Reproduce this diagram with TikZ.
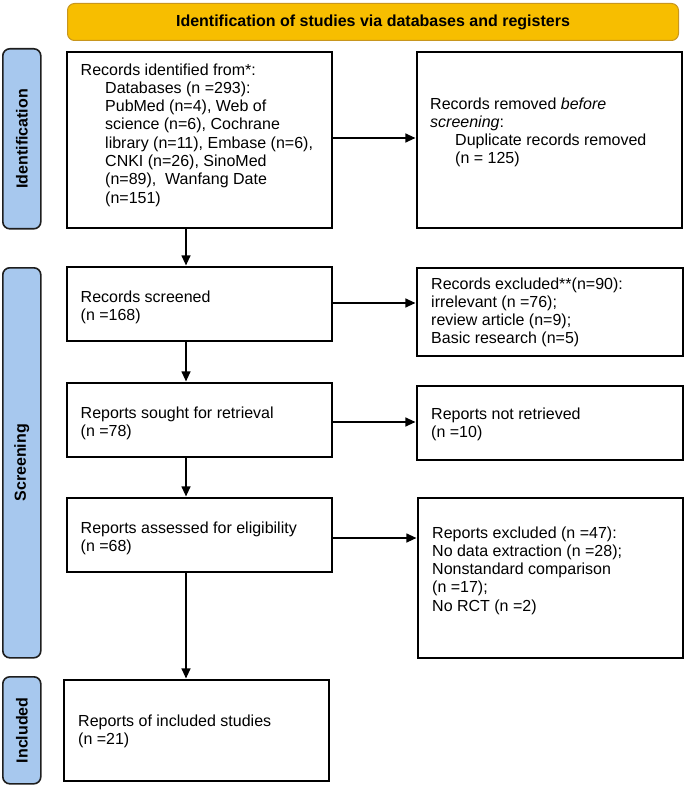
\documentclass[tikz,border=0pt]{standalone}
\usepackage{fontspec}
\setmainfont{Liberation Sans}
\usetikzlibrary{arrows.meta}
\definecolor{hdrfill}{HTML}{F7BE00}
\definecolor{hdrdraw}{HTML}{C8961E}
\definecolor{barfill}{HTML}{A7C8EE}
\definecolor{bardraw}{HTML}{1E1E1E}
\begin{document}
\begin{tikzpicture}[x=1pt,y=-1pt,
  box/.style={draw=black,line width=1.6pt,fill=white,anchor=north west,inner sep=0pt},
  txt/.style={anchor=north west,inner sep=0pt,align=left,font=\fontsize{16}{18.3}\selectfont},
  bar/.style={draw=bardraw,line width=1.6pt,fill=barfill,rounded corners=7pt,anchor=north west,inner sep=0pt},
  lab/.style={font=\fontsize{16}{18.3}\selectfont\bfseries,rotate=90,inner sep=0pt},
  arr/.style={line width=1.2pt,shorten >=0.6pt,-{Triangle[length=10pt,width=9pt]}}]
\useasboundingbox (0,0) rectangle (685,786);

% header
\node[draw=hdrdraw,fill=hdrfill,line width=1pt,rounded corners=7pt,anchor=north west,
  minimum width=611pt,minimum height=37pt,inner sep=0pt,
  font=\bfseries\fontsize{16}{18.3}\selectfont] (hdr) at (67,3)
  {Identification of studies via databases and registers};

% side bars
\node[bar,minimum width=38pt,minimum height=180pt] (bar1) at (2,48) {};
\node[lab] (lab1) at (bar1.center) {Identification};
\node[bar,minimum width=38pt,minimum height=390pt] (bar2) at (2,267) {};
\node[lab] (lab2) at (bar2.center) {Screening};
\node[bar,minimum width=38pt,minimum height=107pt] (bar3) at (2,676) {};
\node[lab] (lab3) at (bar3.center) {Included};

% boxes
\node[box,minimum width=265pt,minimum height=176pt] (b1) at (66,51) {};
\node[box,minimum width=265pt,minimum height=176pt] (b2) at (416,51) {};
\node[box,minimum width=265pt,minimum height=74pt] (b3) at (66,266) {};
\node[box,minimum width=266pt,minimum height=88pt] (b4) at (416,267) {};
\node[box,minimum width=265pt,minimum height=74pt] (b5) at (66,382) {};
\node[box,minimum width=266pt,minimum height=74pt] (b6) at (416,385) {};
\node[box,minimum width=265pt,minimum height=74pt] (b7) at (66,497) {};
\node[box,minimum width=265pt,minimum height=160pt] (b8) at (417,497) {};
\node[box,minimum width=265pt,minimum height=101pt] (b9) at (63,679) {};

% texts
\node[txt] (t1) at (80.5,62) {\strut Records identified from*:\\
  \hspace*{24.5pt}Databases (n =293):\\
  \hspace*{24.5pt}PubMed (n=4), Web of\\
  \hspace*{24.5pt}science (n=6), Cochrane\\
  \hspace*{24.5pt}library (n=11), Embase (n=6),\\
  \hspace*{24.5pt}CNKI (n=26), SinoMed\\
  \hspace*{24.5pt}(n=89),~ Wanfang Date\\
  \hspace*{24.5pt}(n=151)};
\node[txt] (t2) at (430,96) {\strut Records removed \textit{before}\\
  \textit{screening}:\\
  \hspace*{25pt}Duplicate records removed\\
  \hspace*{25pt}(n = 125)};
\node[txt] (t3) at (80.5,289) {\strut Records screened\\(n =168)};
\node[txt] (t4) at (431,276) {\strut Records excluded**(n=90):\\irrelevant (n =76);\\review article (n=9);\\Basic research (n=5)};
\node[txt] (t5) at (80.5,405) {\strut Reports sought for retrieval\\(n =78)};
\node[txt] (t6) at (431,406) {\strut Reports not retrieved\\(n =10)};
\node[txt] (t7) at (80.5,520) {\strut Reports assessed for eligibility\\(n =68)};
\node[txt] (t8) at (432,525) {\strut Reports excluded (n =47):\\No data extraction (n =28);\\Nonstandard comparison\\(n =17);\\No RCT (n =2)};
\node[txt] (t9) at (78,713) {\strut Reports of included studies\\(n =21)};

% connectors
\coordinate (vx) at (186,0);
\draw[arr] (b1.south -| vx) -- (b3.north -| vx);
\draw[arr] (b3.south -| vx) -- (b5.north -| vx);
\draw[arr] (b5.south -| vx) -- (b7.north -| vx);
\draw[arr] (b7.south -| vx) -- (b9.north -| vx);
\coordinate (h1) at (0,138);
\coordinate (h2) at (0,303);
\coordinate (h3) at (0,422);
\coordinate (h4) at (0,538);
\draw[arr] (b1.east |- h1) -- (b2.west |- h1);
\draw[arr] (b3.east |- h2) -- (b4.west |- h2);
\draw[arr] (b5.east |- h3) -- (b6.west |- h3);
\draw[arr] (b7.east |- h4) -- (b8.west |- h4);
\end{tikzpicture}
\end{document}
